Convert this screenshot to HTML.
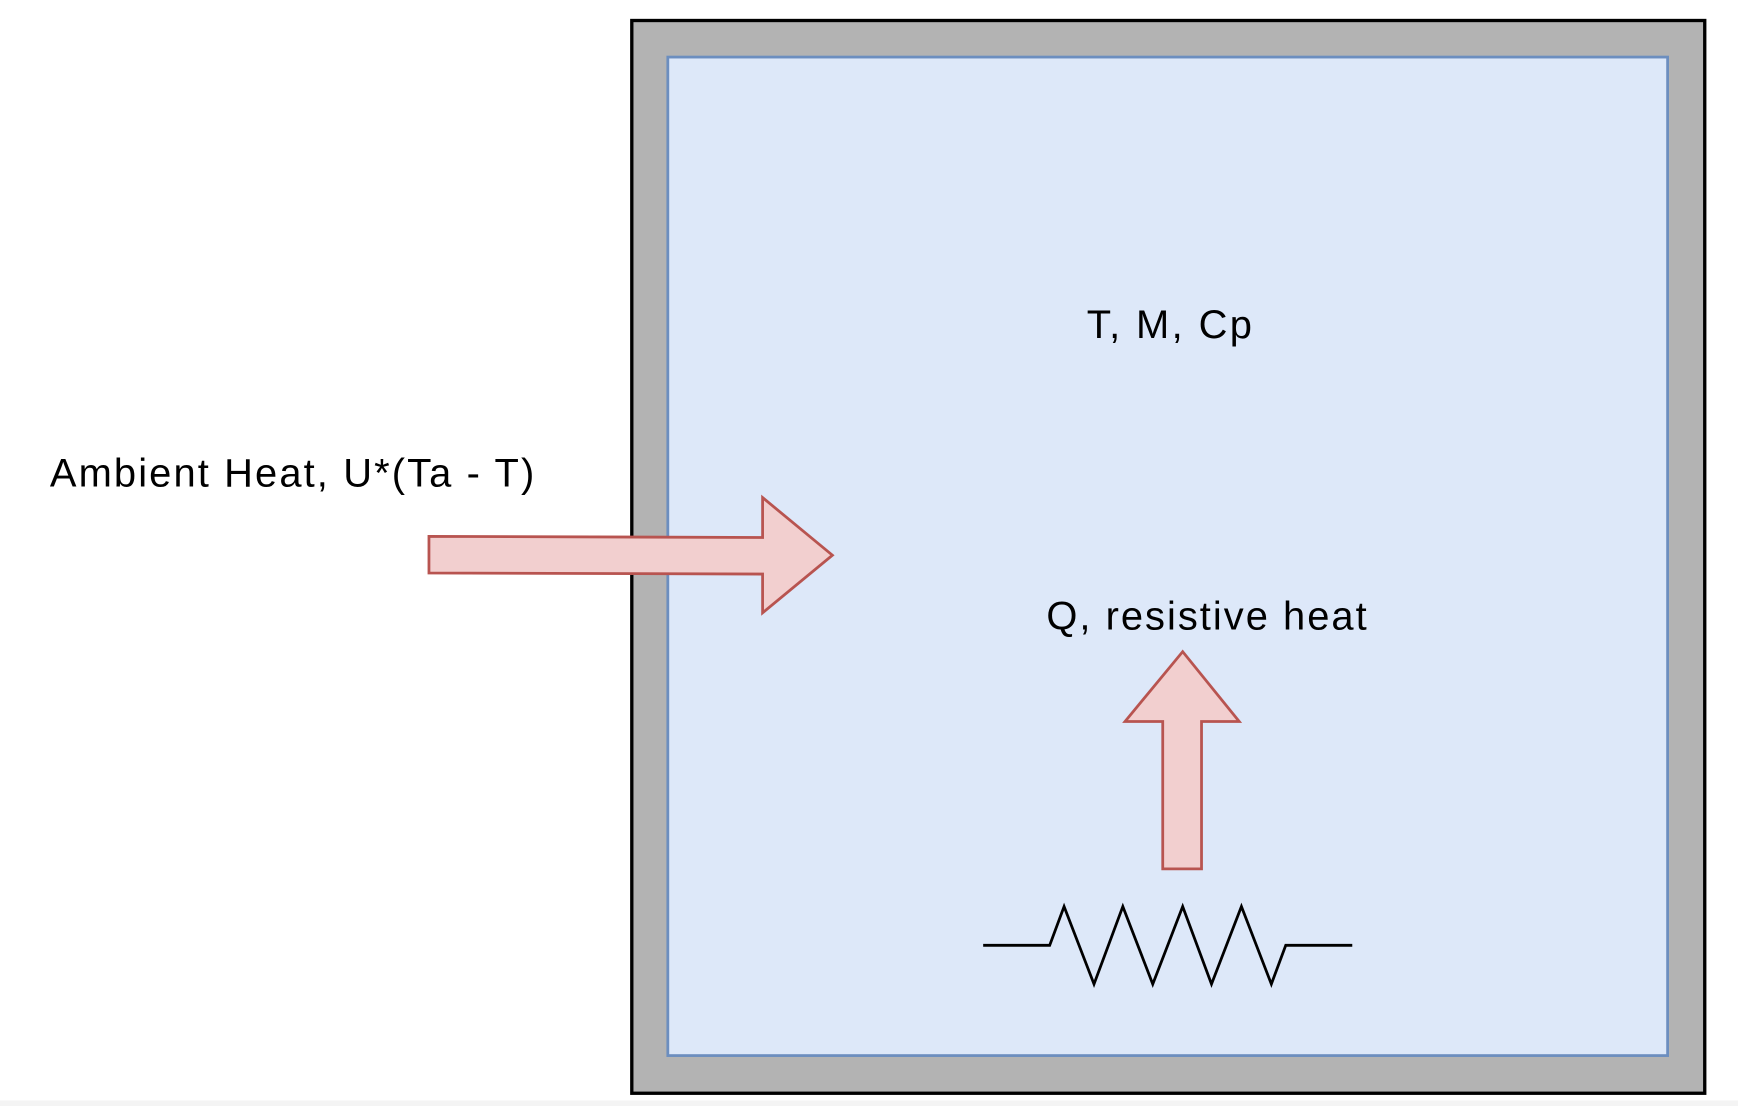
<!DOCTYPE html>
<html><head><meta charset="utf-8"><style>
html,body{margin:0;padding:0;background:#fff;}
svg{display:block;}
text{font-family:"Liberation Sans",Arial,sans-serif;fill:#000;}
</style></head><body>
<svg width="1738" height="1106" viewBox="0 0 1568 998" preserveAspectRatio="none">
<rect x="0" y="993" width="1568" height="5" fill="#f4f4f4"/>
<rect x="570" y="18.5" width="968" height="968" fill="#b3b3b3" stroke="#000" stroke-width="3"/>
<rect x="602.5" y="51.5" width="902" height="901" fill="#dde8f9" stroke="#6c8ebf" stroke-width="2.5"/>
<text x="1055" y="305" font-size="36" text-anchor="middle" textLength="149">T, M, Cp</text>
<text x="45" y="439" font-size="36" textLength="437">Ambient Heat, U*(Ta - T)</text>
<text x="944" y="568" font-size="36" textLength="289">Q, resistive heat</text>
<polygon points="387,484 688,485 688,449 751,501 688,553 688,518 387,517" fill="#f2cfcf" stroke="#b85450" stroke-width="2.5"/>
<polygon points="1049,784 1049,651 1015,651 1067,588 1118,651 1084,651 1084,784" fill="#f2cfcf" stroke="#b85450" stroke-width="2.5"/>
<polyline points="887,853 947,853 960,818 987,888 1013,818 1040,888 1067,818 1093,888 1120,818 1147,888 1160,853 1220,853" fill="none" stroke="#000" stroke-width="2.5"/>
</svg>
</body></html>
